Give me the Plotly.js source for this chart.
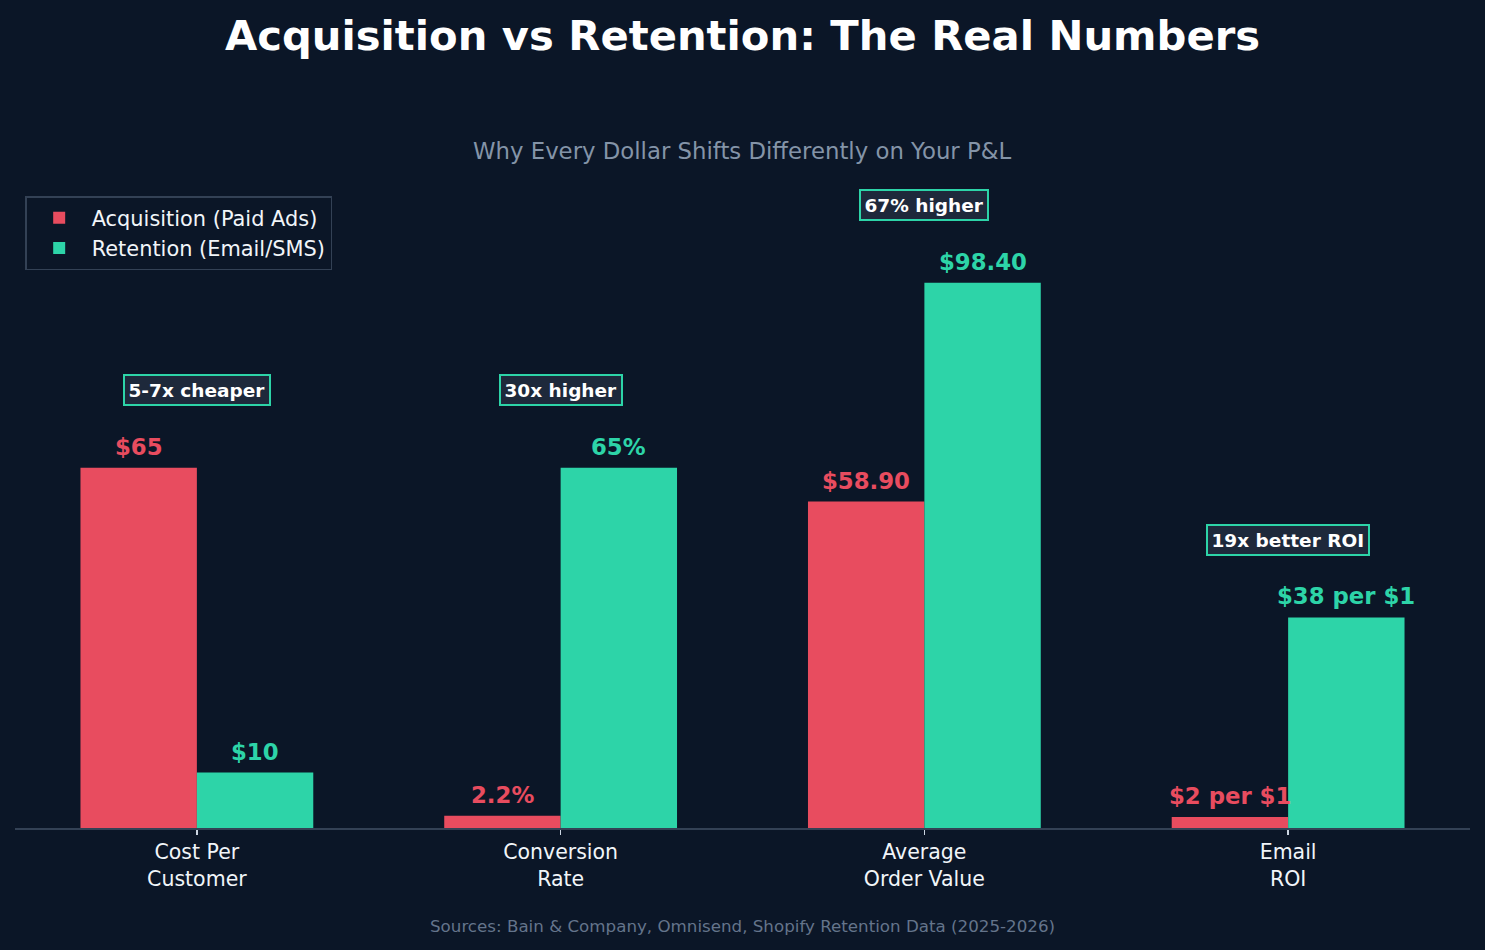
<!DOCTYPE html>
<html>
<head>
<meta charset="utf-8">
<script src="https://cdn.plot.ly/plotly-3.0.1.min.js"></script>
<style>html,body{margin:0;padding:0;background:#0b1627;}#chart{width:1485px;height:950px;}</style>
</head>
<body>
<div id="chart"></div>
<script>
const categories = ['Cost Per<br>Customer', 'Conversion<br>Rate', 'Average<br>Order Value', 'Email<br>ROI'];
const acquisition = [65, 2.2, 58.9, 2];
const retention = [10, 65, 98.4, 38];
const acqLabels = ['$65', '2.2%', '$58.90', '$2 per $1'];
const retLabels = ['$10', '65%', '$98.40', '$38 per $1'];
const comparisons = ['5-7x cheaper', '30x higher', '67% higher', '19x better ROI'];
const seriesNames = ['Acquisition (Paid Ads)', 'Retention (Email/SMS)'];

const RED = '#e84c5f';
const GREEN = '#2dd4a8';
const BG = '#0b1627';
const FONT = 'DejaVu Sans, sans-serif';
const xs = categories.map((_, i) => i);
const off = 0.16;

const traces = [
  {type: 'bar', name: seriesNames[0], x: xs, y: acquisition, marker: {color: RED}, hoverinfo: 'skip'},
  {type: 'bar', name: seriesNames[1], x: xs, y: retention, marker: {color: GREEN}, hoverinfo: 'skip'}
];

const annotations = [];
xs.forEach((x, i) => {
  annotations.push({x: x - off, y: acquisition[i], xref: 'x', yref: 'y', text: '<b>' + acqLabels[i] + '</b>',
    showarrow: false, yanchor: 'bottom', yshift: 6, font: {family: FONT, size: 22.8, color: RED}});
  annotations.push({x: x + off, y: retention[i], xref: 'x', yref: 'y', text: '<b>' + retLabels[i] + '</b>',
    showarrow: false, yanchor: 'bottom', yshift: 6, font: {family: FONT, size: 22.8, color: GREEN}});
  annotations.push({x: x, y: Math.max(acquisition[i], retention[i]) + 14, xref: 'x', yref: 'y',
    text: '<b>' + comparisons[i] + '</b>', showarrow: false, yanchor: 'middle',
    font: {family: FONT, size: 18.5, color: '#ffffff'}, bgcolor: '#1e293b', bordercolor: GREEN,
    borderwidth: 2, borderpad: 3.5});
});
annotations.push({x: 0.5, y: 1.018, xref: 'paper', yref: 'paper', showarrow: false, yanchor: 'middle',
  text: 'Why Every Dollar Shifts Differently on Your P&L', font: {family: FONT, size: 22.8, color: '#8494a8'}});
annotations.push({x: 0.5, y: -0.147, xref: 'paper', yref: 'paper', showarrow: false, yanchor: 'middle',
  text: 'Sources: Bain & Company, Omnisend, Shopify Retention Data (2025-2026)', font: {family: FONT, size: 16.7, color: '#64748b'}});

const layout = {
  width: 1485, height: 950,
  paper_bgcolor: BG, plot_bgcolor: BG,
  margin: {l: 15, r: 15, t: 163, b: 122},
  barmode: 'group', bargap: 0.36, bargroupgap: 0,
  font: {family: FONT, color: '#ffffff'},
  title: {text: '<b>Acquisition vs Retention: The Real Numbers</b>', x: 0.5, xanchor: 'center',
    y: 1 - 35 / 950, yanchor: 'middle', yref: 'container', font: {family: FONT, size: 41.7, color: '#ffffff'}},
  xaxis: {type: 'linear', range: [-0.5, 3.5], tickvals: xs, ticktext: categories, showgrid: false, zeroline: false,
    showline: true, linecolor: '#334155', linewidth: 1.5, ticks: 'outside', ticklen: 5, tickwidth: 1.5, tickcolor: '#cbd5e1',
    tickfont: {family: FONT, size: 20.5, color: '#f1f5f9'}, fixedrange: true},
  yaxis: {range: [0, 120], visible: false, showgrid: false, zeroline: false, fixedrange: true},
  legend: {x: 0.007, y: 0.95, xanchor: 'left', yanchor: 'top', bgcolor: BG, bordercolor: '#334155', borderwidth: 1.5,
    font: {family: FONT, size: 20.9, color: '#f1f5f9'}, traceorder: 'normal', itemwidth: 55},
  annotations: annotations,
  showlegend: true
};

Plotly.newPlot('chart', traces, layout, {displayModeBar: false, staticPlot: true});
</script>
</body>
</html>
